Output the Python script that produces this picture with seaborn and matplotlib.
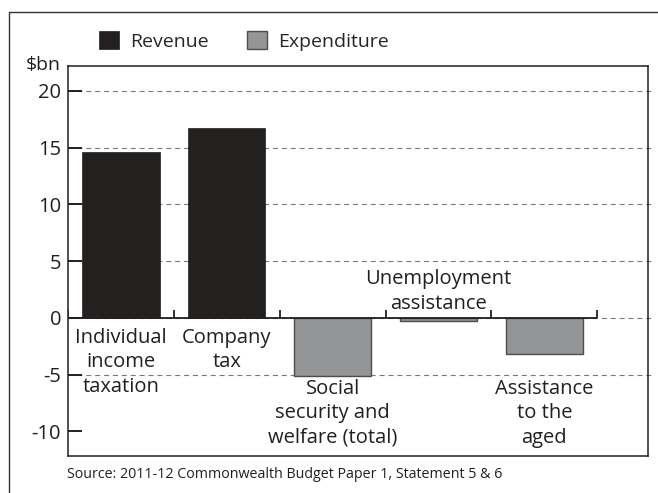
import matplotlib
matplotlib.use("Agg")
import matplotlib.pyplot as plt
import seaborn as sns
import pandas as pd
from matplotlib.lines import Line2D

sns.set_style("white")
plt.rcParams["font.family"] = ["Open Sans", "DejaVu Sans"]

categories = ["Individual\nincome\ntaxation", "Company\ntax", "Social\nsecurity and\nwelfare (total)",
              "Unemployment\nassistance", "Assistance\nto the\naged"]
values = [14.6, 16.7, -5.1, -0.3, -3.2]
kinds = ["Revenue", "Revenue", "Expenditure", "Expenditure", "Expenditure"]
yticks = [20, 15, 10, 5, 0, -5, -10]
gridLevels = [20, 15, 10, 5, 0, -5]
source = "Source: 2011-12 Commonwealth Budget Paper 1, Statement 5 & 6"

data = pd.DataFrame({"Category": categories, "Value": values, "Kind": kinds})

fig = plt.figure(figsize=(6.58, 4.93), dpi=100)
ax = fig.add_axes([68 / 658, 1 - 456 / 493, 580 / 658, 390 / 493])

# dashed guide lines behind bars
xRight = 4.98
ax.hlines(gridLevels, -0.5, xRight + 0.04, colors="#7a7a7a", linewidth=0.8,
          linestyles=(0, (4.5, 3.5)), zorder=0, clip_on=False)

palette = {"Revenue": "#231f20", "Expenditure": "#939598"}
sns.barplot(data=data, x="Category", y="Value", hue="Kind", palette=palette,
            dodge=False, width=0.73, ax=ax, zorder=2, legend=True)
for bar in ax.patches:
    if bar.get_facecolor()[0] > 0.3:
        bar.set_edgecolor("#4d4d4f")
        bar.set_linewidth(1.0)
    else:
        bar.set_edgecolor("#231f20")
        bar.set_linewidth(0.5)

# zero line with small category separators
ax.plot([-0.5, 4.5], [0, 0], color="#231f20", linewidth=1.3, zorder=4, solid_capstyle="butt")
ax.vlines([-0.5, 0.5, 1.5, 2.5, 3.5, 4.5], 0, 0.7, color="#231f20", linewidth=1.3, zorder=4)

ax.set_xlim(-0.5, xRight)
ax.set_ylim(-12.16, 22.2)
ax.set_yticks(yticks)
ax.set_yticklabels([str(t) for t in yticks])
ax.set_xticks([])
ax.set_xlabel("")
ax.set_ylabel("")
ax.tick_params(axis="y", direction="in", length=10, width=1.4, color="#231f20",
               labelsize=14.5, pad=5, left=True, labelcolor="#231f20")
for spine in ax.spines.values():
    spine.set_color("#231f20")
    spine.set_linewidth(1.1)

# category labels
labelSize = 14.5
for i, (name, val) in enumerate(zip(categories, values)):
    if val > 0:
        ax.text(i, -0.85, name, ha="center", va="top", fontsize=labelSize, color="#231f20", linespacing=1.3)
    elif val > -1:
        ax.text(i, 0.8, name, ha="center", va="baseline", fontsize=labelSize, color="#231f20", linespacing=1.3)
    else:
        ax.text(i, -5.35, name, ha="center", va="top", fontsize=labelSize, color="#231f20", linespacing=1.3)

ax.annotate("$bn", xy=(0, 1), xycoords="axes fraction", xytext=(-5, 0.5), textcoords="offset points",
            ha="right", va="center", fontsize=14, color="#231f20")

# legend
handles, labels = ax.get_legend_handles_labels()
ax.get_legend().remove()
fig.legend(handles, labels, loc="center left", bbox_to_anchor=(99 / 658, 1 - 41 / 493), ncol=2,
           frameon=False, fontsize=14, handlelength=1.05, handleheight=1.0, handletextpad=0.55,
           columnspacing=1.95, borderpad=0, borderaxespad=0)

fig.text(67 / 658, 1 - 475 / 493, source, fontsize=10.3, color="#231f20", va="center", ha="left")

# outer frame (top and left)
fig.add_artist(Line2D([9 / 658, 9 / 658], [0, 1 - 12 / 493], color="#333333", linewidth=1))
fig.add_artist(Line2D([9 / 658, 1], [1 - 12 / 493, 1 - 12 / 493], color="#333333", linewidth=1))

fig.savefig("out.png", dpi=100)
